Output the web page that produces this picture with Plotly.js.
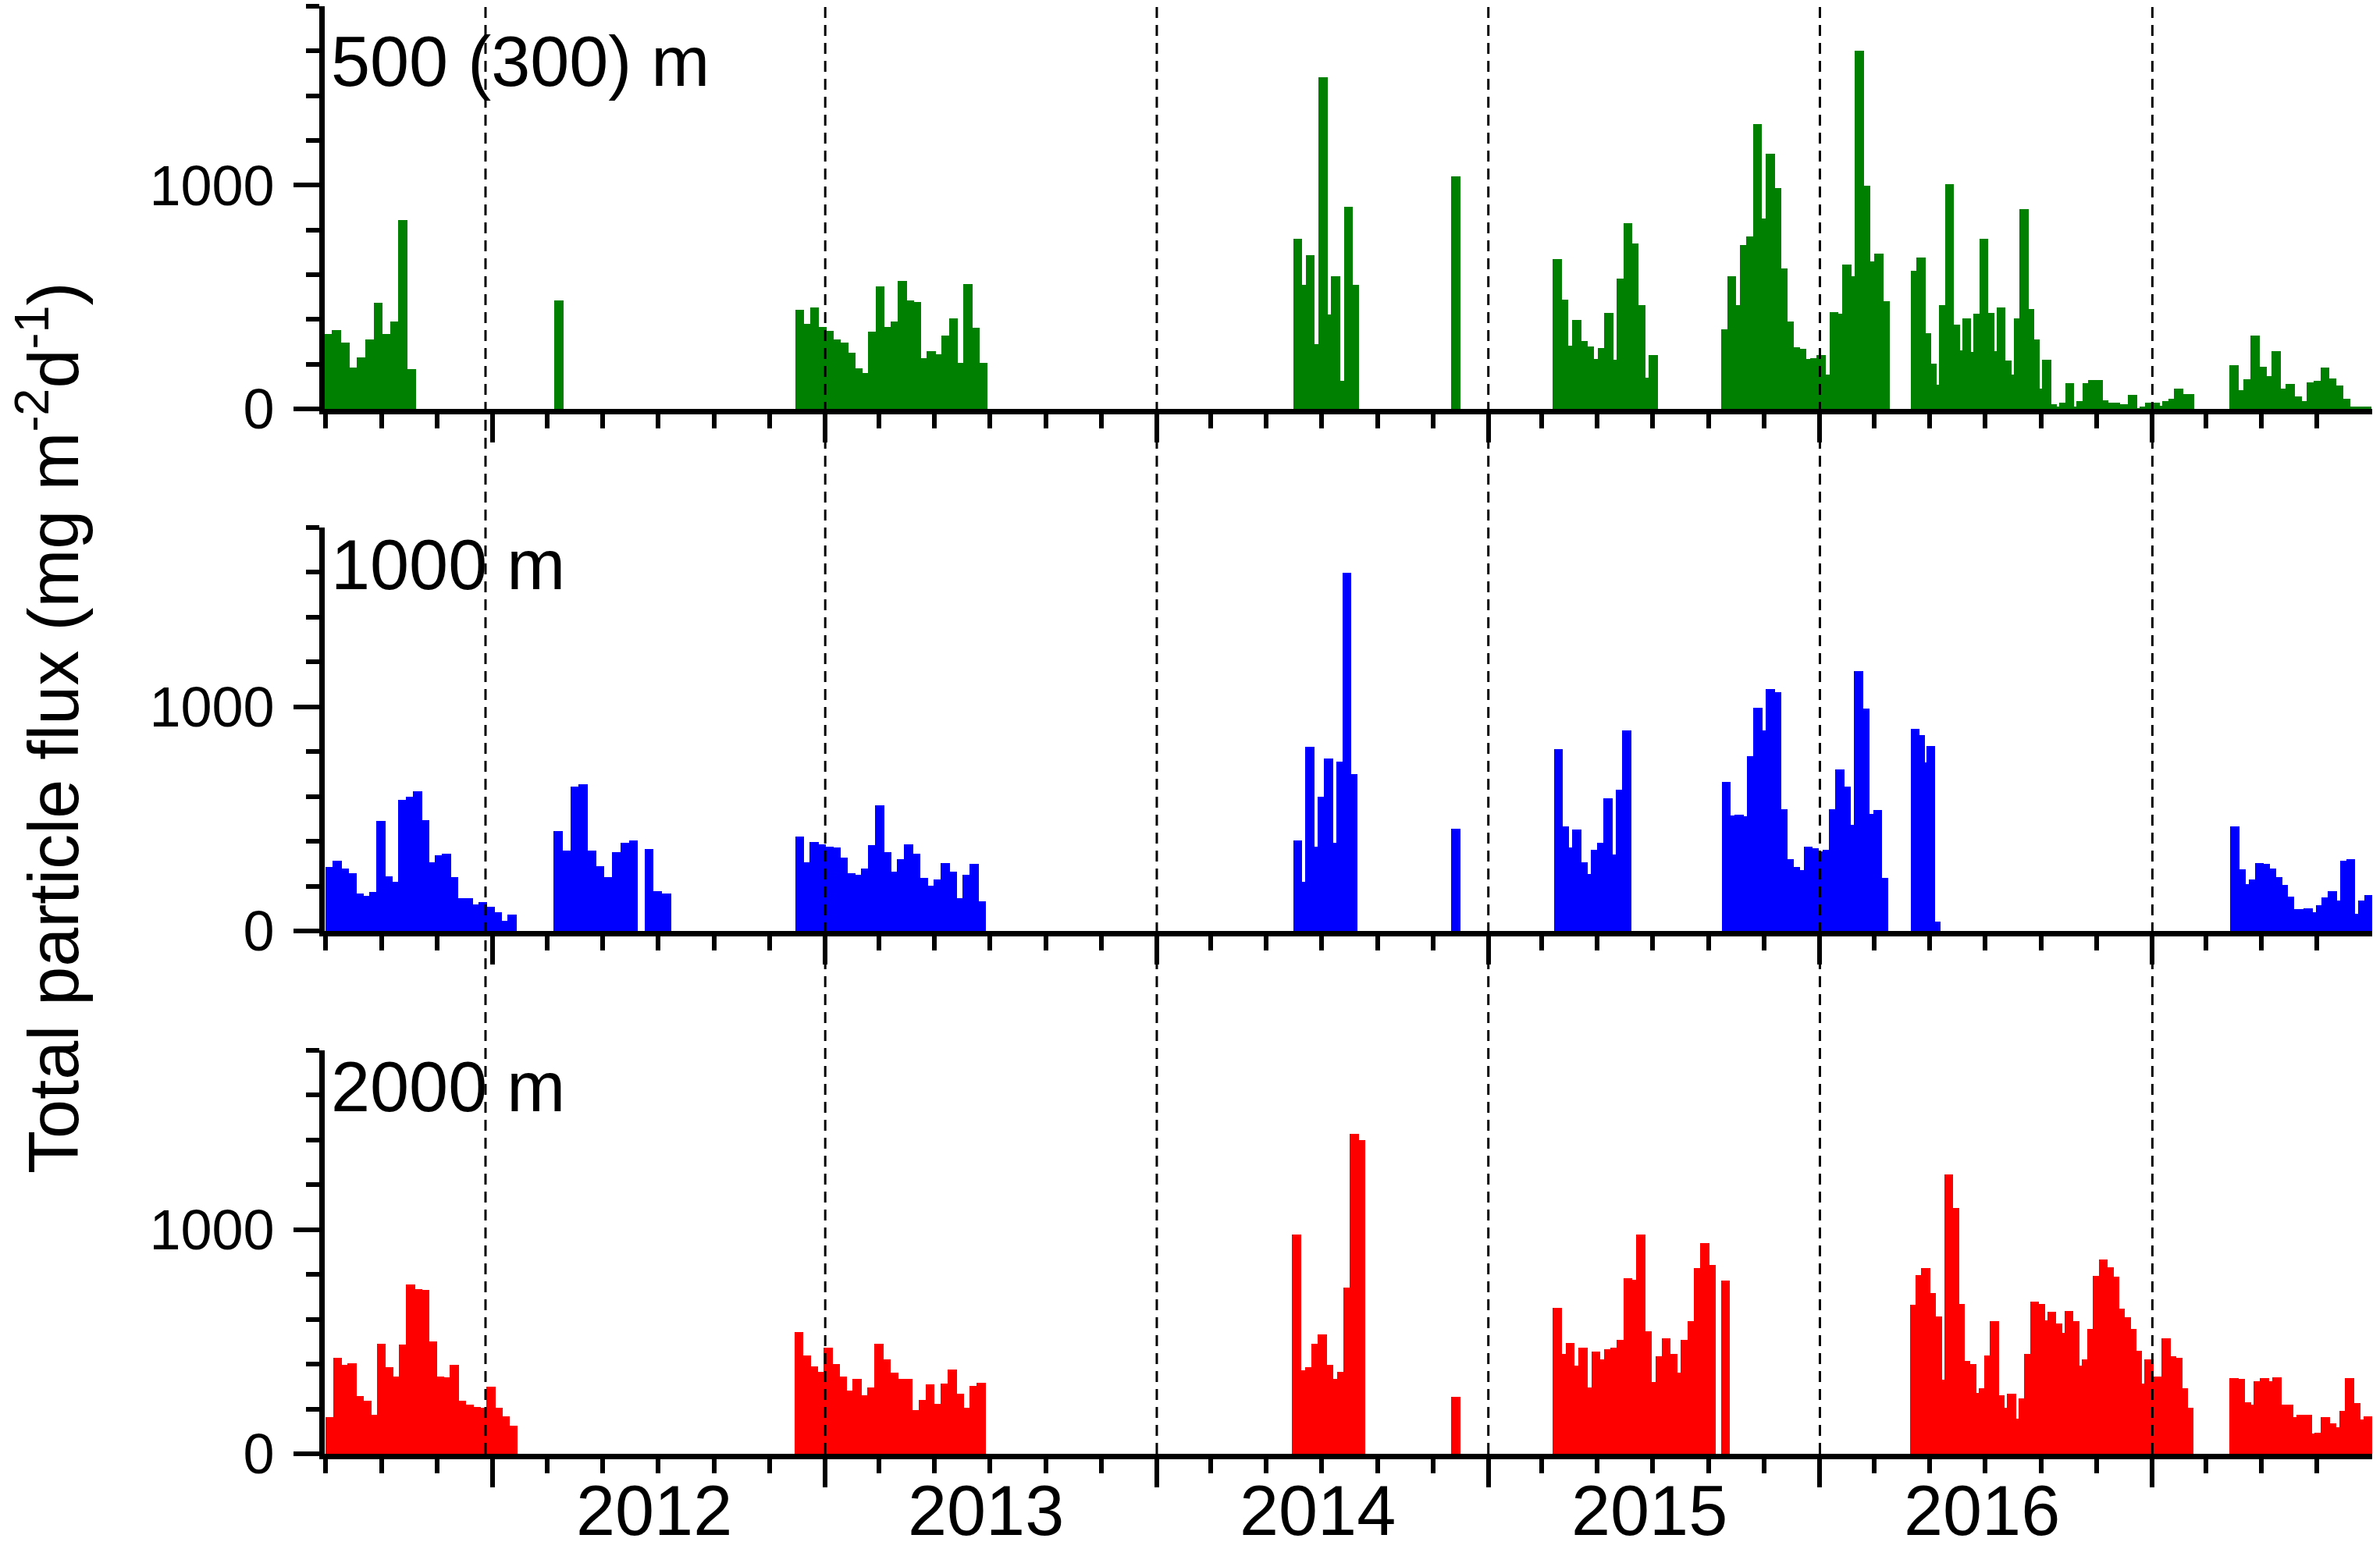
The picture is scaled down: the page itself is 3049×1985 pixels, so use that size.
<!DOCTYPE html>
<html><head><meta charset="utf-8">
<script src="https://cdn.plot.ly/plotly-3.0.1.min.js"></script>
<style>html,body{margin:0;padding:0;background:#fff}#chart{width:3049px;height:1985px}</style>
</head><body><div id="chart"></div>
<script>
// ---------------- data ----------------
const depthLabels = ['500 (300) m', '1000 m', '2000 m'];
const yearLabels = ['2012', '2013', '2014', '2015', '2016'];
const yearLabelDates = ['2012-06-27', '2013-06-27', '2014-06-27', '2015-06-27', '2016-06-27'];
const yearLineDates = ['2011-12-24', '2013-01-01', '2014-01-01', '2015-01-01', '2016-01-01', '2017-01-01'];
const yTitle = 'Total particle flux (mg m<sup>-2</sup>d<sup>-1</sup>)';

// 500 (300) m : each segment = first sample date, sampling interval (days), flux values
const starts500 = ['2011-07-04', '2012-03-14', '2012-12-04', '2014-06-05', '2014-11-26', '2015-03-18', '2015-09-19', '2016-04-15', '2017-04-01'];
const steps500 = [9.13, 0, 8.05, 7.0, 0, 7.05, 7.03, 6.3, 7.7];
const flux500 = [
  [334, 352, 296, 184, 231, 309, 474, 334, 390, 844, 178],
  [484],
  [444, 380, 452, 367, 350, 309, 296, 250, 180, 159, 344, 546, 367, 390, 571, 486, 477, 227, 259, 244, 327, 405, 205, 559, 362, 205],
  [762, 555, 687, 290, 1484, 421, 594, 125, 902, 555],
  [1040],
  [669, 488, 284, 399, 302, 278, 224, 271, 428, 221, 584, 830, 738, 465, 140, 240],
  [356, 594, 465, 734, 771, 1274, 850, 1142, 987, 627, 390, 274, 269, 225, 227, 240, 155, 434, 427, 646, 592, 1602, 996, 659, 694, 481],
  [619, 678, 340, 203, 109, 463, 1005, 378, 262, 405, 253, 424, 761, 430, 259, 455, 218, 153, 405, 893, 446, 309, 90, 221,
   21, 10, 27, 115, 10, 34, 115, 130, 130, 40, 27, 27, 21, 21, 62, 5, 12, 27, 27, 15, 34, 44, 90, 67, 67],
  [196, 84, 134, 327, 190, 146, 259, 90, 112, 55, 34, 117, 125, 186, 137, 105, 46, 11, 11, 11]
];

// 1000 m
const starts1000 = ['2011-07-06', '2012-03-13', '2012-06-21', '2012-12-04', '2014-06-05', '2014-11-26', '2015-03-19', '2015-09-20', '2016-04-15', '2017-04-02'];
const steps1000 = [8.0, 9.2, 9.6, 8.0, 6.8, 0, 6.85, 6.94, 5.65, 6.7];
const flux1000 = [
  [284, 315, 278, 259, 166, 157, 175, 490, 243, 219, 586, 598, 623, 494, 308, 338, 346, 240, 147, 145, 120, 128, 107, 83, 46, 73],
  [447, 358, 645, 655, 358, 290, 241, 351, 392, 404],
  [367, 179, 166],
  [422, 308, 398, 385, 375, 373, 327, 256, 252, 277, 383, 561, 352, 264, 321, 388, 346, 237, 203, 231, 303, 266, 145, 252, 299, 132],
  [404, 219, 822, 375, 599, 768, 395, 754, 1599, 700],
  [457],
  [812, 468, 371, 453, 308, 253, 361, 395, 593, 342, 629, 896],
  [666, 515, 518, 511, 781, 997, 896, 1081, 1067, 542, 320, 284, 272, 377, 369, 355, 361, 542, 719, 645, 474, 1158, 991, 521, 540, 237],
  [901, 873, 752, 824, 42],
  [468, 274, 209, 229, 303, 299, 278, 241, 204, 153, 98, 99, 101, 85, 116, 151, 178, 136, 315, 321, 77, 135, 159]
];

// 2000 m
const starts2000 = ['2011-07-06', '2012-12-03', '2014-06-04', '2014-11-26', '2015-03-18', '2015-09-19', '2016-04-14', '2017-04-01'];
const steps2000 = [8.04, 8.03, 7.06, 0, 7.05, 0, 6.3, 6.7];
const flux2000 = [
  [165, 427, 396, 404, 257, 237, 173, 492, 386, 346, 489, 755, 736, 730, 503, 344, 340, 396, 237, 220, 208, 204, 299, 207, 167, 124],
  [542, 437, 390, 367, 474, 402, 344, 282, 334, 262, 297, 492, 421, 362, 334, 334, 195, 241, 309, 223, 315, 375, 268, 207, 303, 318],
  [977, 371, 386, 492, 534, 396, 334, 365, 742, 1429, 1401],
  [254],
  [652, 445, 495, 392, 473, 297, 455, 421, 468, 473, 510, 782, 776, 977, 547, 319, 435, 517, 445, 361, 507, 591, 829, 940, 844],
  [773],
  [666, 798, 829, 717, 612, 330, 1246, 1095, 668, 414, 402, 272, 293, 437, 591, 260, 204, 268, 155, 247, 445, 680, 668, 596, 633,
   581, 538, 637, 591, 392, 421, 557, 794, 868, 831, 789, 647, 610, 557, 461, 313, 423, 346, 346, 516, 435, 429, 294, 204],
  [338, 334, 229, 219, 325, 338, 325, 340, 220, 220, 165, 173, 173, 90, 95, 165, 136, 118, 192, 338, 226, 152, 167]
];

// ---------------- build ----------------
const DAY = 86400000;
function expand(starts, steps, values) {
  const x = [], y = [];
  starts.forEach((s, k) => {
    const t0 = Date.parse(s + 'T00:00:00Z');
    values[k].forEach((v, i) => {
      const d = new Date(t0 + i * steps[k] * DAY);
      x.push(d.toISOString().slice(0, 19).replace('T', ' '));
      y.push(v);
    });
  });
  return {x, y};
}

const colors = ['#008000', '#0000ff', '#ff0000'];
const series = [expand(starts500, steps500, flux500), expand(starts1000, steps1000, flux1000), expand(starts2000, steps2000, flux2000)];
const axisSuffix = ['', '2', '3'];

const traces = series.map((s, i) => ({
  type: 'bar', x: s.x, y: s.y, width: 10 * DAY,
  xaxis: 'x' + axisSuffix[i], yaxis: 'y' + axisSuffix[i],
  marker: {color: colors[i], line: {width: 0}},
  hoverinfo: 'x+y', showlegend: false
}));

const FONT = 'Liberation Sans, Arial, Helvetica, sans-serif';
const xRange = ['2011-06-30', '2017-08-31'];
const yRange = [0, 1800];
const domains = [[0.72183, 1], [0.36119, 0.63989], [0, 0.27871]];
const labelTops = [0.99, 0.64178, 0.28140];
const LW = 7, TW = 6;

function xAxis(anchor, side, dir, majorLen, minorLen) {
  return {
    type: 'date', range: xRange, anchor: anchor, side: side,
    showline: true, linewidth: LW, linecolor: '#000', showgrid: false, zeroline: false,
    ticks: dir, tick0: '2012-01-01', dtick: 'M12', ticklen: majorLen, tickwidth: TW, tickcolor: '#000',
    showticklabels: false, fixedrange: true,
    minor: {ticks: dir, tick0: '2011-01-01', dtick: 'M2', ticklen: minorLen, tickwidth: TW, tickcolor: '#000', showgrid: false}
  };
}
function yAxis(anchor, side, dir, majorLen, minorLen, labels) {
  return {
    range: yRange, anchor: anchor, side: side,
    showline: true, linewidth: LW, linecolor: '#000', showgrid: false, zeroline: false,
    ticks: dir, tick0: 0, dtick: 1000, ticklen: majorLen, tickwidth: TW, tickcolor: '#000',
    showticklabels: labels, tickfont: {size: 72, family: FONT, color: '#000'}, ticklabelstandoff: 10, fixedrange: true,
    minor: {ticks: dir, tick0: 0, dtick: 200, ticklen: minorLen, tickwidth: TW, tickcolor: '#000', showgrid: false}
  };
}

const layout = {
  width: 3049, height: 1985,
  margin: {l: 416, r: 10, t: 8, b: 122, pad: 0},
  paper_bgcolor: '#fff', plot_bgcolor: '#fff',
  font: {family: FONT, color: '#000', size: 72},
  showlegend: false,
  bargap: 0,
  xaxis: xAxis('y', 'bottom', 'outside', 36, 18),
  xaxis2: xAxis('y2', 'bottom', 'outside', 36, 18),
  xaxis3: xAxis('y3', 'bottom', 'outside', 36, 18),
  xaxis4: Object.assign(xAxis('y', 'top', 'inside', 34, 18), {overlaying: 'x'}),
  yaxis: Object.assign(yAxis('x', 'left', 'outside', 33, 17, true), {domain: domains[0]}),
  yaxis2: Object.assign(yAxis('x2', 'left', 'outside', 33, 17, true), {domain: domains[1]}),
  yaxis3: Object.assign(yAxis('x3', 'left', 'outside', 33, 17, true), {domain: domains[2]}),
  yaxis4: Object.assign(yAxis('x', 'right', 'inside', 35, 16, false), {overlaying: 'y'}),
  yaxis5: Object.assign(yAxis('x2', 'right', 'inside', 35, 16, false), {overlaying: 'y2'}),
  yaxis6: Object.assign(yAxis('x3', 'right', 'inside', 35, 16, false), {overlaying: 'y3'}),
  shapes: yearLineDates.map(d => ({
    type: 'line', xref: 'x', yref: 'paper', x0: d, x1: d, y0: 0, y1: 1,
    line: {color: '#000', width: 3, dash: '14px,9px'}, layer: 'above'
  })),
  annotations: [
    ...depthLabels.map((t, i) => ({
      text: t, xref: 'paper', yref: 'paper', x: 0.00229, y: labelTops[i],
      xanchor: 'left', yanchor: 'top', showarrow: false, font: {size: 90, family: FONT, color: '#000'}
    })),
    ...yearLabels.map((t, i) => ({
      text: t, xref: 'x3', yref: 'paper', x: yearLabelDates[i], y: -0.0111,
      xanchor: 'center', yanchor: 'top', showarrow: false, font: {size: 90, family: FONT, color: '#000'}
    })),
    {
      text: yTitle, xref: 'paper', yref: 'paper', x: -0.1350, y: 0.50135, textangle: -90,
      xanchor: 'center', yanchor: 'middle', showarrow: false, font: {size: 90, family: FONT, color: '#000'}
    }
  ]
};

Plotly.newPlot('chart', traces, layout, {displayModeBar: false, staticPlot: true});
</script>
</body></html>
